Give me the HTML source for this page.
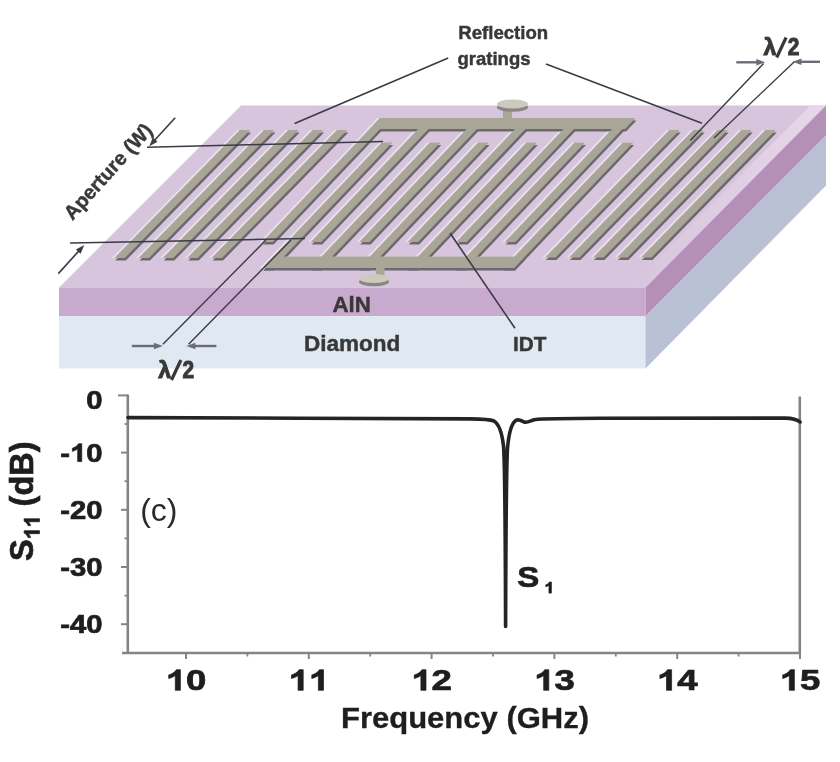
<!DOCTYPE html>
<html><head><meta charset="utf-8"><title>SAW resonator</title>
<style>html,body{margin:0;padding:0;background:#fff;}body{width:840px;height:762px;overflow:hidden;font-family:"Liberation Sans",sans-serif;}svg{display:block;filter:blur(0.45px);}</style>
</head><body>
<svg width="840" height="762" viewBox="0 0 840 762">
<rect width="840" height="762" fill="#ffffff"/>
<polygon points="241,105.5 826,105.5 645.5,287.5 59,287.5" fill="#d6c5dc"/>
<defs><linearGradient id="eg" x1="0" y1="0" x2="1" y2="0"><stop offset="0" stop-color="#e8d6ea" stop-opacity="0"/><stop offset="1" stop-color="#e8d6ea" stop-opacity="1"/></linearGradient></defs>
<polygon points="810,105.5 826,105.5 645.5,287.5 629.5,287.5" fill="url(#eg)"/>
<polygon points="59,287.5 645.5,287.5 645.5,316.3 59,316.3" fill="#c9aacf"/>
<polygon points="59,316.3 645.5,316.3 645.5,368.5 59,368.5" fill="#e0e9f1"/>
<polygon points="645.5,287.5 826,105.5 826,135.5 645.5,316.3" fill="#b48fb8"/>
<polygon points="645.5,316.3 826,135.5 826,185.5 645.5,368.5" fill="#bac1d5"/>
<g fill="#eae1ec" transform="translate(-2.5,0)">
<polygon points="114.3,258 124.8,258 250.2,130 239.7,130"/>
<polygon points="138.5,258 149,258 274.4,130 263.9,130"/>
<polygon points="162.8,258 173.3,258 298.7,130 288.2,130"/>
<polygon points="187.2,258 197.7,258 323.1,130 312.6,130"/>
<polygon points="211.5,258 222,258 347.4,130 336.9,130"/>
<polygon points="545,257.5 555.5,257.5 679.8,130 669.3,130"/>
<polygon points="569,257.5 579.5,257.5 703.8,130 693.3,130"/>
<polygon points="593,257.5 603.5,257.5 727.8,130 717.3,130"/>
<polygon points="617,257.5 627.5,257.5 751.8,130 741.3,130"/>
<polygon points="641,257.5 651.5,257.5 775.8,130 765.3,130"/>
<polygon points="380,118 635.5,118 625,129 369.6,129"/>
<polygon points="262.2,242 272.7,242 390.5,118 380,118"/>
<polygon points="310.7,242 321.2,242 439,118 428.5,118"/>
<polygon points="359.2,242 369.7,242 487.5,118 477,118"/>
<polygon points="407.7,242 418.2,242 536,118 525.5,118"/>
<polygon points="456.2,242 466.7,242 584.5,118 574,118"/>
<polygon points="504.7,242 515.2,242 633,118 622.5,118"/>
<polygon points="262.5,268 273,268 392.2,142.5 381.8,142.5"/>
<polygon points="310.7,268 321.2,268 440.4,142.5 429.9,142.5"/>
<polygon points="358.9,268 369.4,268 488.6,142.5 478.1,142.5"/>
<polygon points="407.1,268 417.6,268 536.9,142.5 526.4,142.5"/>
<polygon points="455.3,268 465.8,268 585,142.5 574.5,142.5"/>
<polygon points="503.5,268 514,268 633.2,142.5 622.8,142.5"/>
<polygon points="262.5,268 514,268 524.9,256.5 273.4,256.5"/>
</g>
<g fill="#6d6771" transform="translate(1,2.6)">
<polygon points="114.3,258 124.8,258 250.2,130 239.7,130"/>
<polygon points="138.5,258 149,258 274.4,130 263.9,130"/>
<polygon points="162.8,258 173.3,258 298.7,130 288.2,130"/>
<polygon points="187.2,258 197.7,258 323.1,130 312.6,130"/>
<polygon points="211.5,258 222,258 347.4,130 336.9,130"/>
<polygon points="545,257.5 555.5,257.5 679.8,130 669.3,130"/>
<polygon points="569,257.5 579.5,257.5 703.8,130 693.3,130"/>
<polygon points="593,257.5 603.5,257.5 727.8,130 717.3,130"/>
<polygon points="617,257.5 627.5,257.5 751.8,130 741.3,130"/>
<polygon points="641,257.5 651.5,257.5 775.8,130 765.3,130"/>
<polygon points="380,118 635.5,118 625,129 369.6,129"/>
<polygon points="262.2,242 272.7,242 390.5,118 380,118"/>
<polygon points="310.7,242 321.2,242 439,118 428.5,118"/>
<polygon points="359.2,242 369.7,242 487.5,118 477,118"/>
<polygon points="407.7,242 418.2,242 536,118 525.5,118"/>
<polygon points="456.2,242 466.7,242 584.5,118 574,118"/>
<polygon points="504.7,242 515.2,242 633,118 622.5,118"/>
<polygon points="262.5,268 273,268 392.2,142.5 381.8,142.5"/>
<polygon points="310.7,268 321.2,268 440.4,142.5 429.9,142.5"/>
<polygon points="358.9,268 369.4,268 488.6,142.5 478.1,142.5"/>
<polygon points="407.1,268 417.6,268 536.9,142.5 526.4,142.5"/>
<polygon points="455.3,268 465.8,268 585,142.5 574.5,142.5"/>
<polygon points="503.5,268 514,268 633.2,142.5 622.8,142.5"/>
<polygon points="262.5,268 514,268 524.9,256.5 273.4,256.5"/>
</g>
<g fill="#aaa697">
<polygon points="114.3,258 124.8,258 250.2,130 239.7,130"/>
<polygon points="138.5,258 149,258 274.4,130 263.9,130"/>
<polygon points="162.8,258 173.3,258 298.7,130 288.2,130"/>
<polygon points="187.2,258 197.7,258 323.1,130 312.6,130"/>
<polygon points="211.5,258 222,258 347.4,130 336.9,130"/>
<polygon points="545,257.5 555.5,257.5 679.8,130 669.3,130"/>
<polygon points="569,257.5 579.5,257.5 703.8,130 693.3,130"/>
<polygon points="593,257.5 603.5,257.5 727.8,130 717.3,130"/>
<polygon points="617,257.5 627.5,257.5 751.8,130 741.3,130"/>
<polygon points="641,257.5 651.5,257.5 775.8,130 765.3,130"/>
<polygon points="380,118 635.5,118 625,129 369.6,129"/>
<polygon points="262.2,242 272.7,242 390.5,118 380,118"/>
<polygon points="310.7,242 321.2,242 439,118 428.5,118"/>
<polygon points="359.2,242 369.7,242 487.5,118 477,118"/>
<polygon points="407.7,242 418.2,242 536,118 525.5,118"/>
<polygon points="456.2,242 466.7,242 584.5,118 574,118"/>
<polygon points="504.7,242 515.2,242 633,118 622.5,118"/>
<polygon points="262.5,268 273,268 392.2,142.5 381.8,142.5"/>
<polygon points="310.7,268 321.2,268 440.4,142.5 429.9,142.5"/>
<polygon points="358.9,268 369.4,268 488.6,142.5 478.1,142.5"/>
<polygon points="407.1,268 417.6,268 536.9,142.5 526.4,142.5"/>
<polygon points="455.3,268 465.8,268 585,142.5 574.5,142.5"/>
<polygon points="503.5,268 514,268 633.2,142.5 622.8,142.5"/>
<polygon points="262.5,268 514,268 524.9,256.5 273.4,256.5"/>
</g>
<rect x="503" y="106" width="9" height="13" fill="#aaa697"/><ellipse cx="512.5" cy="107.2" rx="15.5" ry="4.5" fill="#8a8582"/><ellipse cx="512.5" cy="104" rx="15.5" ry="4.5" fill="#cdc9bd"/>
<rect x="376" y="268" width="8.5" height="9" fill="#aaa697"/><ellipse cx="374" cy="281.7" rx="15" ry="4.5" fill="#8a8582"/><ellipse cx="374" cy="278.5" rx="15" ry="4.5" fill="#cdc9bd"/>
<line x1="448.2" y1="58.1" x2="294.6" y2="123.5" stroke="#3b3b45" stroke-width="1.6"/>
<line x1="546" y1="63.9" x2="702" y2="123.2" stroke="#3b3b45" stroke-width="1.6"/>
<line x1="450" y1="233" x2="515" y2="328.3" stroke="#3b3b45" stroke-width="1.6"/>
<line x1="147" y1="147.2" x2="383" y2="141.5" stroke="#3b3b45" stroke-width="1.5"/>
<line x1="70" y1="243" x2="305" y2="238.5" stroke="#3b3b45" stroke-width="1.5"/>
<line x1="175.2" y1="117.7" x2="154.6" y2="140.3" stroke="#3b3b45" stroke-width="1.6"/><polygon points="149.2,146.2 152.9,137.4 157.6,141.7" fill="#3b3b45"/>
<line x1="58.3" y1="273.6" x2="78.9" y2="250.9" stroke="#3b3b45" stroke-width="1.6"/><polygon points="84.3,245 80.6,253.8 75.9,249.5" fill="#3b3b45"/>
<line x1="162.9" y1="344.3" x2="266" y2="240" stroke="#3b3b45" stroke-width="1.4"/>
<line x1="188.6" y1="344.3" x2="291" y2="240" stroke="#3b3b45" stroke-width="1.4"/>
<line x1="131.8" y1="346" x2="154.9" y2="346" stroke="#6c6c78" stroke-width="2.4"/><polygon points="162.9,346 153.9,349.2 153.9,342.8" fill="#6c6c78"/>
<line x1="216.4" y1="346" x2="194.4" y2="346" stroke="#6c6c78" stroke-width="2.4"/><polygon points="186.4,346 195.4,342.8 195.4,349.2" fill="#6c6c78"/>
<line x1="763.6" y1="63.5" x2="690.2" y2="140.5" stroke="#3b3b45" stroke-width="1.4"/>
<line x1="794.3" y1="61.8" x2="714" y2="138" stroke="#3b3b45" stroke-width="1.4"/>
<line x1="736.3" y1="62.3" x2="757.3" y2="62.3" stroke="#6c6c78" stroke-width="2.4"/><polygon points="765.3,62.3 756.3,65.5 756.3,59.1" fill="#6c6c78"/>
<line x1="820" y1="61.8" x2="800.5" y2="61.8" stroke="#6c6c78" stroke-width="2.4"/><polygon points="792.5,61.8 801.5,58.6 801.5,65" fill="#6c6c78"/>
<text x="458.3" y="39.2" font-size="18.6" fill="#383838" font-family="Liberation Sans" font-weight="bold" stroke="#383838" stroke-width="0.45">Reflection</text>
<text x="457.5" y="65" font-size="18.5" fill="#383838" font-family="Liberation Sans" font-weight="bold" stroke="#383838" stroke-width="0.45">gratings</text>
<text x="763.5" y="55" font-size="23" fill="#383838" font-family="Liberation Sans" font-weight="bold" stroke="#383838" stroke-width="1">&#955;</text><line x1="776.7" y1="57.5" x2="786.1" y2="37.5" stroke="#383838" stroke-width="3.2"/><text transform="translate(787.8,55) scale(0.87,1)" font-size="24" fill="#383838" font-family="Liberation Sans" font-weight="bold" stroke="#383838" stroke-width="1">2</text>
<text x="158.3" y="377.5" font-size="23" fill="#383838" font-family="Liberation Sans" font-weight="bold" stroke="#383838" stroke-width="1">&#955;</text><line x1="171.5" y1="380" x2="180.9" y2="360" stroke="#383838" stroke-width="3.2"/><text transform="translate(182.6,377.5) scale(0.87,1)" font-size="24" fill="#383838" font-family="Liberation Sans" font-weight="bold" stroke="#383838" stroke-width="1">2</text>
<text x="332.5" y="311.5" font-size="22.3" fill="#383838" font-family="Liberation Sans" font-weight="bold" stroke="#383838" stroke-width="0.45">AlN</text>
<text x="304" y="350.5" font-size="22.5" fill="#383838" font-family="Liberation Sans" font-weight="bold" stroke="#383838" stroke-width="0.45">Diamond</text>
<text x="513" y="350.7" font-size="20.7" fill="#383838" font-family="Liberation Sans" font-weight="bold" stroke="#383838" stroke-width="0.45">IDT</text>
<text transform="translate(72.5,221) rotate(-48)" font-size="20" fill="#383838" font-family="Liberation Sans" font-weight="bold" stroke="#383838" stroke-width="0.45">Aperture (W)</text>
<line x1="127.8" y1="394.5" x2="127.8" y2="654" stroke="#858585" stroke-width="2.6"/>
<line x1="122" y1="653" x2="801" y2="653" stroke="#858585" stroke-width="2.7"/>
<line x1="799.8" y1="396.5" x2="799.8" y2="654" stroke="#858585" stroke-width="2.6"/>
<line x1="118" y1="395.4" x2="128" y2="395.4" stroke="#858585" stroke-width="2"/>
<line x1="121" y1="452.6" x2="128" y2="452.6" stroke="#858585" stroke-width="2"/>
<line x1="121" y1="509.8" x2="128" y2="509.8" stroke="#858585" stroke-width="2"/>
<line x1="121" y1="567" x2="128" y2="567" stroke="#858585" stroke-width="2"/>
<line x1="121" y1="624.2" x2="128" y2="624.2" stroke="#858585" stroke-width="2"/>
<line x1="124.5" y1="424" x2="128" y2="424" stroke="#858585" stroke-width="1.8"/>
<line x1="124.5" y1="481.2" x2="128" y2="481.2" stroke="#858585" stroke-width="1.8"/>
<line x1="124.5" y1="538.4" x2="128" y2="538.4" stroke="#858585" stroke-width="1.8"/>
<line x1="124.5" y1="595.6" x2="128" y2="595.6" stroke="#858585" stroke-width="1.8"/>
<line x1="186" y1="653" x2="186" y2="659" stroke="#858585" stroke-width="2"/>
<line x1="308.8" y1="653" x2="308.8" y2="659" stroke="#858585" stroke-width="2"/>
<line x1="431.6" y1="653" x2="431.6" y2="659" stroke="#858585" stroke-width="2"/>
<line x1="554.4" y1="653" x2="554.4" y2="659" stroke="#858585" stroke-width="2"/>
<line x1="677.2" y1="653" x2="677.2" y2="659" stroke="#858585" stroke-width="2"/>
<line x1="800" y1="653" x2="800" y2="659" stroke="#858585" stroke-width="2"/>
<line x1="247.4" y1="653" x2="247.4" y2="656.5" stroke="#858585" stroke-width="1.8"/>
<line x1="370.2" y1="653" x2="370.2" y2="656.5" stroke="#858585" stroke-width="1.8"/>
<line x1="493" y1="653" x2="493" y2="656.5" stroke="#858585" stroke-width="1.8"/>
<line x1="615.8" y1="653" x2="615.8" y2="656.5" stroke="#858585" stroke-width="1.8"/>
<line x1="738.6" y1="653" x2="738.6" y2="656.5" stroke="#858585" stroke-width="1.8"/>
<path d="M128,417.6 L300,418.2 L470,418.9 C484,419 490,419.4 494,421 C499,424 502,433 503.5,446 C504.8,460 505.3,520 505.6,626.4 C505.9,520 506.4,462 507.6,447 C509,432 512,423 516,420.3 C519,419 521,420.5 524,422 C527,423 530,421 534,419.7 C545,418.6 560,418.4 600,418.3 L785,418.1 C793,418.2 797,419.3 800,422" fill="none" stroke="#242424" stroke-width="3.6" stroke-linejoin="round" stroke-linecap="round"/>
<text transform="translate(86.2,409) scale(1.17,1)" font-size="25" fill="#1e1e1e" font-family="Liberation Sans" font-weight="bold" stroke="#1e1e1e" stroke-width="0.7">0</text>
<text transform="translate(60.2,461.6) scale(1.17,1)" font-size="25" fill="#1e1e1e" font-family="Liberation Sans" font-weight="bold" stroke="#1e1e1e" stroke-width="0.7">-</text><path d="M402,0 L262,0 L262,512 C212,466 150,431 82,409 L82,534 C118,546 158,568 200,600 C242,632 272,672 290,716 L402,716 Z" transform="translate(70,461.6) scale(0.02925,-0.02500)" fill="#1e1e1e" stroke="#1e1e1e" stroke-width="0.7" vector-effect="non-scaling-stroke"/><text transform="translate(86.2,461.6) scale(1.17,1)" font-size="25" fill="#1e1e1e" font-family="Liberation Sans" font-weight="bold" stroke="#1e1e1e" stroke-width="0.7">0</text>
<text transform="translate(60.2,518.8) scale(1.17,1)" font-size="25" fill="#1e1e1e" font-family="Liberation Sans" font-weight="bold" stroke="#1e1e1e" stroke-width="0.7">-</text><text transform="translate(70,518.8) scale(1.17,1)" font-size="25" fill="#1e1e1e" font-family="Liberation Sans" font-weight="bold" stroke="#1e1e1e" stroke-width="0.7">2</text><text transform="translate(86.2,518.8) scale(1.17,1)" font-size="25" fill="#1e1e1e" font-family="Liberation Sans" font-weight="bold" stroke="#1e1e1e" stroke-width="0.7">0</text>
<text transform="translate(60.2,576) scale(1.17,1)" font-size="25" fill="#1e1e1e" font-family="Liberation Sans" font-weight="bold" stroke="#1e1e1e" stroke-width="0.7">-</text><text transform="translate(70,576) scale(1.17,1)" font-size="25" fill="#1e1e1e" font-family="Liberation Sans" font-weight="bold" stroke="#1e1e1e" stroke-width="0.7">3</text><text transform="translate(86.2,576) scale(1.17,1)" font-size="25" fill="#1e1e1e" font-family="Liberation Sans" font-weight="bold" stroke="#1e1e1e" stroke-width="0.7">0</text>
<text transform="translate(60.2,633.2) scale(1.17,1)" font-size="25" fill="#1e1e1e" font-family="Liberation Sans" font-weight="bold" stroke="#1e1e1e" stroke-width="0.7">-</text><text transform="translate(70,633.2) scale(1.17,1)" font-size="25" fill="#1e1e1e" font-family="Liberation Sans" font-weight="bold" stroke="#1e1e1e" stroke-width="0.7">4</text><text transform="translate(86.2,633.2) scale(1.17,1)" font-size="25" fill="#1e1e1e" font-family="Liberation Sans" font-weight="bold" stroke="#1e1e1e" stroke-width="0.7">0</text>
<path d="M402,0 L262,0 L262,512 C212,466 150,431 82,409 L82,534 C118,546 158,568 200,600 C242,632 272,672 290,716 L402,716 Z" transform="translate(165.7,690.3) scale(0.03658,-0.02880)" fill="#1e1e1e" stroke="#1e1e1e" stroke-width="0.7" vector-effect="non-scaling-stroke"/><text transform="translate(186,690.3) scale(1.27,1)" font-size="28.8" fill="#1e1e1e" font-family="Liberation Sans" font-weight="bold" stroke="#1e1e1e" stroke-width="0.7">0</text>
<path d="M402,0 L262,0 L262,512 C212,466 150,431 82,409 L82,534 C118,546 158,568 200,600 C242,632 272,672 290,716 L402,716 Z" transform="translate(288.5,690.3) scale(0.03658,-0.02880)" fill="#1e1e1e" stroke="#1e1e1e" stroke-width="0.7" vector-effect="non-scaling-stroke"/><path d="M402,0 L262,0 L262,512 C212,466 150,431 82,409 L82,534 C118,546 158,568 200,600 C242,632 272,672 290,716 L402,716 Z" transform="translate(308.8,690.3) scale(0.03658,-0.02880)" fill="#1e1e1e" stroke="#1e1e1e" stroke-width="0.7" vector-effect="non-scaling-stroke"/>
<path d="M402,0 L262,0 L262,512 C212,466 150,431 82,409 L82,534 C118,546 158,568 200,600 C242,632 272,672 290,716 L402,716 Z" transform="translate(411.3,690.3) scale(0.03658,-0.02880)" fill="#1e1e1e" stroke="#1e1e1e" stroke-width="0.7" vector-effect="non-scaling-stroke"/><text transform="translate(431.6,690.3) scale(1.27,1)" font-size="28.8" fill="#1e1e1e" font-family="Liberation Sans" font-weight="bold" stroke="#1e1e1e" stroke-width="0.7">2</text>
<path d="M402,0 L262,0 L262,512 C212,466 150,431 82,409 L82,534 C118,546 158,568 200,600 C242,632 272,672 290,716 L402,716 Z" transform="translate(534.1,690.3) scale(0.03658,-0.02880)" fill="#1e1e1e" stroke="#1e1e1e" stroke-width="0.7" vector-effect="non-scaling-stroke"/><text transform="translate(554.4,690.3) scale(1.27,1)" font-size="28.8" fill="#1e1e1e" font-family="Liberation Sans" font-weight="bold" stroke="#1e1e1e" stroke-width="0.7">3</text>
<path d="M402,0 L262,0 L262,512 C212,466 150,431 82,409 L82,534 C118,546 158,568 200,600 C242,632 272,672 290,716 L402,716 Z" transform="translate(656.9,690.3) scale(0.03658,-0.02880)" fill="#1e1e1e" stroke="#1e1e1e" stroke-width="0.7" vector-effect="non-scaling-stroke"/><text transform="translate(677.2,690.3) scale(1.27,1)" font-size="28.8" fill="#1e1e1e" font-family="Liberation Sans" font-weight="bold" stroke="#1e1e1e" stroke-width="0.7">4</text>
<path d="M402,0 L262,0 L262,512 C212,466 150,431 82,409 L82,534 C118,546 158,568 200,600 C242,632 272,672 290,716 L402,716 Z" transform="translate(779.7,690.3) scale(0.03658,-0.02880)" fill="#1e1e1e" stroke="#1e1e1e" stroke-width="0.7" vector-effect="non-scaling-stroke"/><text transform="translate(800,690.3) scale(1.27,1)" font-size="28.8" fill="#1e1e1e" font-family="Liberation Sans" font-weight="bold" stroke="#1e1e1e" stroke-width="0.7">5</text>
<text transform="translate(465,728) scale(1.07,1)" text-anchor="middle" font-size="29" fill="#1e1e1e" stroke="#1e1e1e" stroke-width="0.3" font-family="Liberation Sans" font-weight="bold">Frequency (GHz)</text>
<g transform="translate(33,561) rotate(-90)"><text font-size="32.5" fill="#1e1e1e" font-family="Liberation Sans" font-weight="bold" stroke="#1e1e1e" stroke-width="0.7">S</text><path d="M402,0 L262,0 L262,512 C212,466 150,431 82,409 L82,534 C118,546 158,568 200,600 C242,632 272,672 290,716 L402,716 Z" transform="translate(21.7,6.5) scale(0.02150,-0.02150)" fill="#1e1e1e" stroke="#1e1e1e" stroke-width="0.7" vector-effect="non-scaling-stroke"/><path d="M402,0 L262,0 L262,512 C212,466 150,431 82,409 L82,534 C118,546 158,568 200,600 C242,632 272,672 290,716 L402,716 Z" transform="translate(33.6,6.5) scale(0.02150,-0.02150)" fill="#1e1e1e" stroke="#1e1e1e" stroke-width="0.7" vector-effect="non-scaling-stroke"/><text x="54.6" font-size="32.5" fill="#1e1e1e" font-family="Liberation Sans" font-weight="bold" stroke="#1e1e1e" stroke-width="0.7">(dB)</text></g>
<text x="140.2" y="521.3" font-size="32" fill="#2a2a2a" font-family="Liberation Sans">(c)</text>
<g transform="translate(517.3,587.3) scale(1.12,1)"><text font-size="29.5" fill="#1e1e1e" font-family="Liberation Sans" font-weight="bold" stroke="#1e1e1e" stroke-width="0.7">S</text><path d="M402,0 L262,0 L262,512 C212,466 150,431 82,409 L82,534 C118,546 158,568 200,600 C242,632 272,672 290,716 L402,716 Z" transform="translate(24.2,5.8) scale(0.01550,-0.01550)" fill="#1e1e1e" stroke="#1e1e1e" stroke-width="0.7" vector-effect="non-scaling-stroke"/></g>
</svg>
</body></html>
